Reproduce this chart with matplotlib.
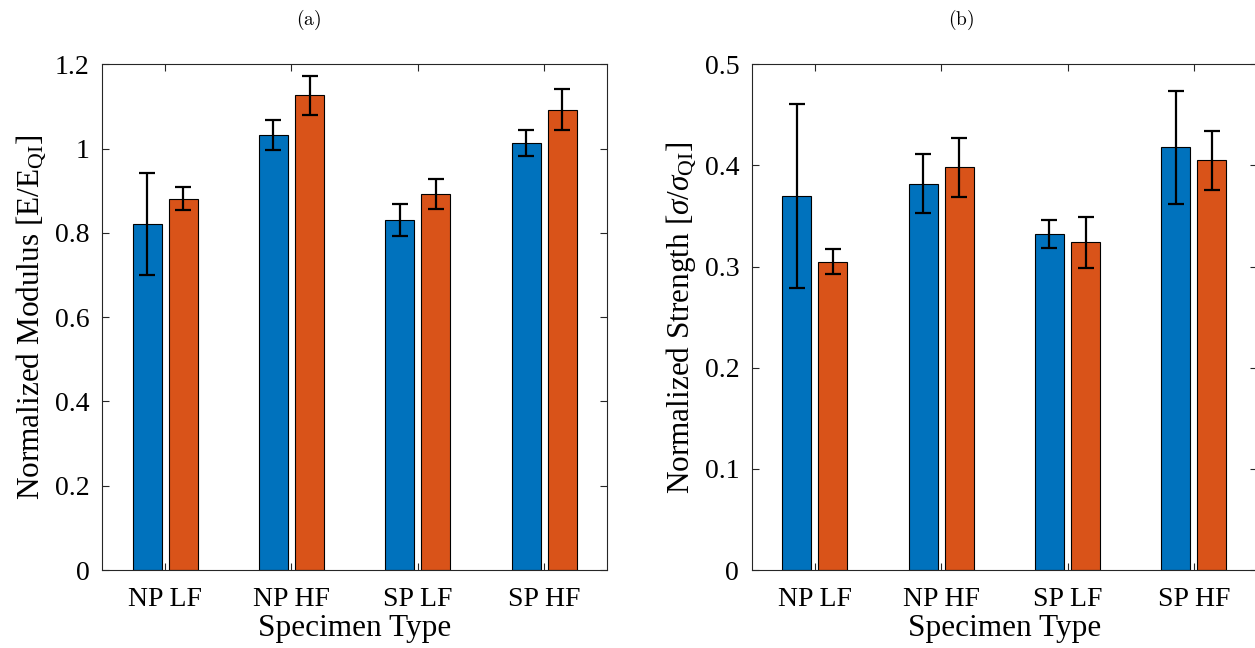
import matplotlib
matplotlib.use("Agg")
import matplotlib.pyplot as plt
import numpy as np

plt.rcParams["font.family"] = ["Liberation Serif", "DejaVu Serif"]
plt.rcParams["mathtext.fontset"] = "custom"
plt.rcParams["mathtext.rm"] = "Liberation Serif"
plt.rcParams["mathtext.it"] = "Liberation Serif:italic"

categories = ["NP LF", "NP HF", "SP LF", "SP HF"]

# Normalized modulus (E / E_QI), two groups per specimen type
modulus_blue = [0.822, 1.032, 0.831, 1.013]
modulus_blue_err = [0.121, 0.035, 0.038, 0.030]
modulus_orange = [0.881, 1.126, 0.892, 1.092]
modulus_orange_err = [0.027, 0.046, 0.035, 0.049]

# Normalized strength (sigma / sigma_QI)
strength_blue = [0.370, 0.382, 0.3325, 0.418]
strength_blue_err = [0.091, 0.029, 0.014, 0.056]
strength_orange = [0.305, 0.398, 0.324, 0.405]
strength_orange_err = [0.012, 0.029, 0.025, 0.029]

modulus_ticks = [0, 0.2, 0.4, 0.6, 0.8, 1.0, 1.2]
strength_ticks = [0, 0.1, 0.2, 0.3, 0.4, 0.5]

BLUE = "#0072BD"
ORANGE = "#D95319"
AX_COLOR = "#262626"

W, H = 1255, 648
fig = plt.figure(figsize=(W / 100, H / 100), dpi=100)

ax_w = (607.3 - 102) / W
ax_h = (570 - 64.3) / H
ax_b = (H - 570) / H
ax1 = fig.add_axes([102 / W, ax_b, ax_w, ax_h])
ax2 = fig.add_axes([751.7 / W, ax_b, ax_w, ax_h])

x = np.arange(1, len(categories) + 1)
offset = 0.1428
width = 0.2286


def draw_panel(ax, blue, blue_err, orange, orange_err, ticks, ylim, ylabel):
    for vals, errs, color, sign in ((blue, blue_err, BLUE, -1),
                                    (orange, orange_err, ORANGE, 1)):
        pos = x + sign * offset
        ax.bar(pos, vals, width=width, color=color, edgecolor="black",
               linewidth=0.8, zorder=2)
        ax.errorbar(pos, vals, yerr=errs, fmt="none", ecolor="black",
                    elinewidth=1.6, capsize=5.8, capthick=1.6, zorder=3)
    ax.set_xlim(0.5, 4.5)
    ax.set_ylim(*ylim)
    ax.set_xticks(x)
    ax.set_xticklabels(categories)
    ax.set_yticks(ticks)
    ax.set_yticklabels(["%g" % t for t in ticks])
    ax.tick_params(direction="in", length=5, width=0.8, colors=AX_COLOR,
                   labelcolor="black", labelsize=20, top=True, right=True,
                   pad=9)
    ax.tick_params(axis="x", pad=12)
    for s in ax.spines.values():
        s.set_color(AX_COLOR)
        s.set_linewidth(0.8)
    ax.set_xlabel("Specimen Type", fontsize=22.5, labelpad=2)
    ax.set_ylabel(ylabel, fontsize=22.5, labelpad=5)


draw_panel(ax1, modulus_blue, modulus_blue_err, modulus_orange,
           modulus_orange_err, modulus_ticks, (0, 1.2),
           r"Normalized Modulus [E/E$_{\mathrm{QI}}$]")
draw_panel(ax2, strength_blue, strength_blue_err, strength_orange,
           strength_orange_err, strength_ticks, (0, 0.5),
           r"Normalized Strength [$\sigma$/$\sigma_{\mathrm{QI}}$]")

fig.text(309 / W, 1 - 20 / H, r"$\mathrm{(a)}$", ha="center", va="center",
         fontsize=14, math_fontfamily="cm")
fig.text(961 / W, 1 - 20 / H, r"$\mathrm{(b)}$", ha="center", va="center",
         fontsize=14, math_fontfamily="cm")

fig.savefig("out.png", dpi=100)
